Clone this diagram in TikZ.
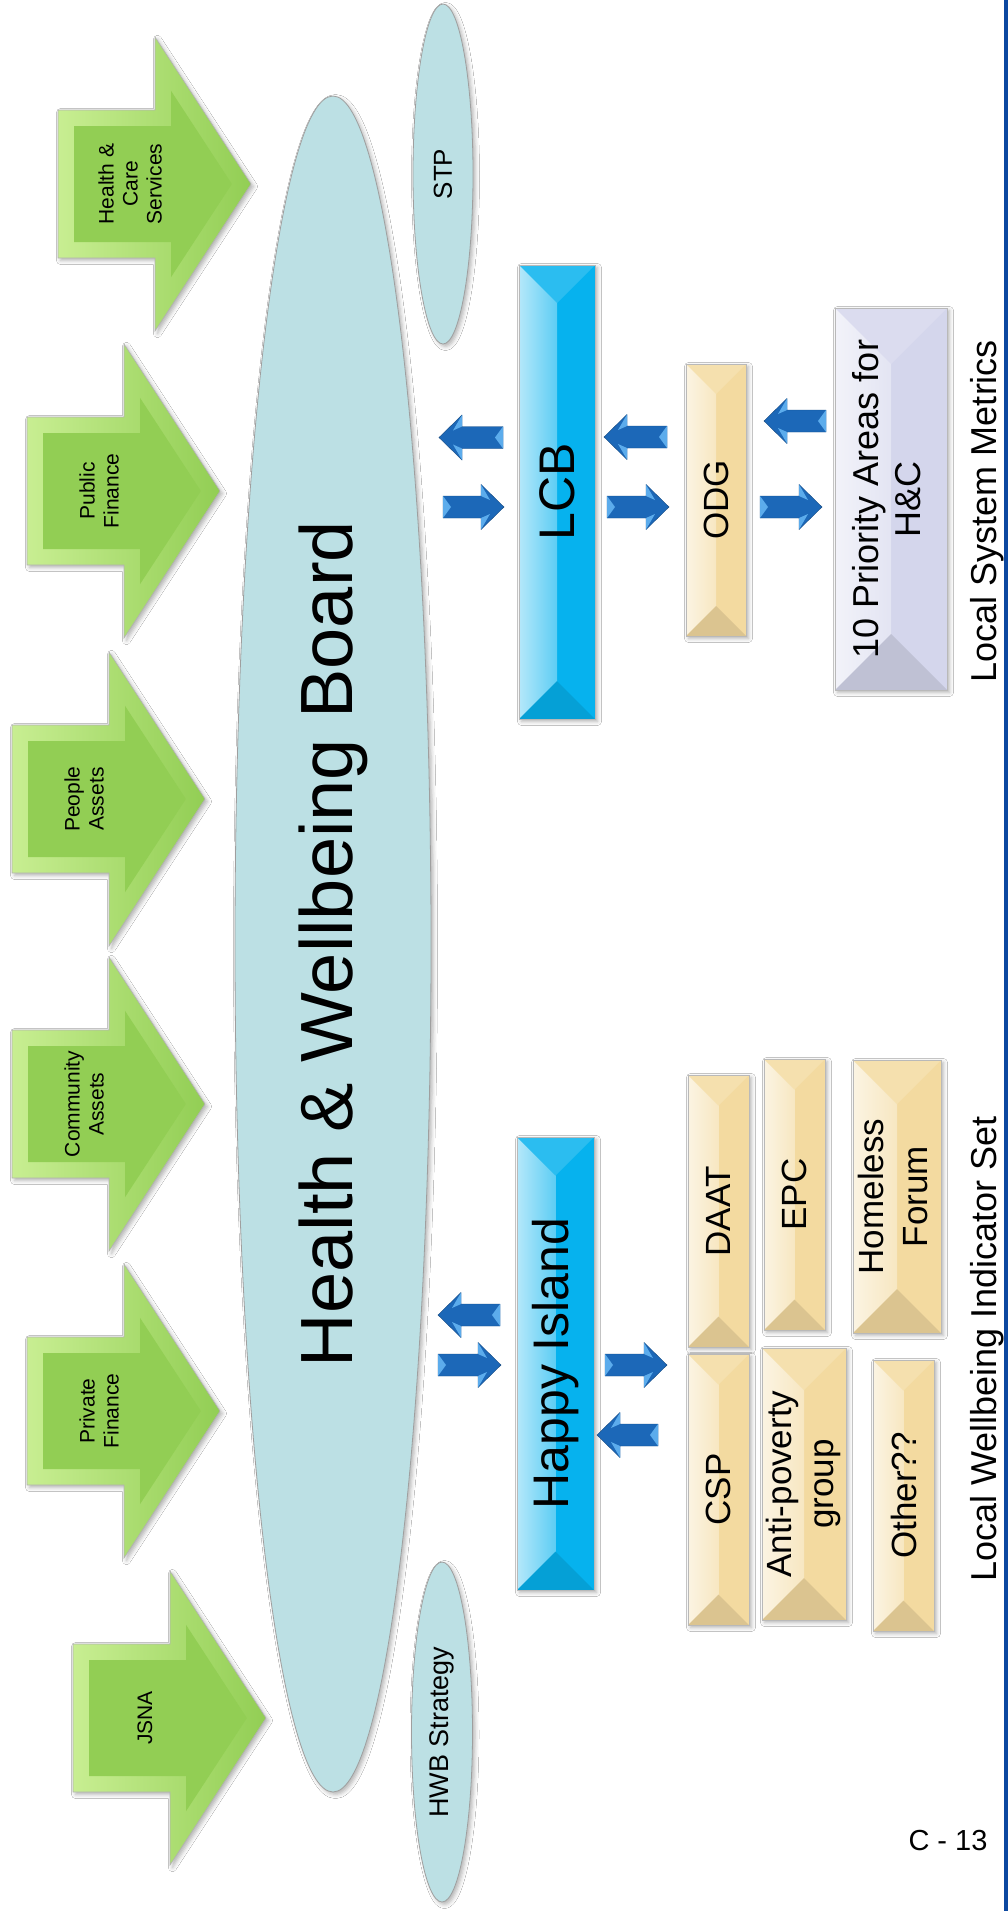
\documentclass[tikz,border=0pt]{standalone}
\usepackage{fontspec}
\setmainfont{Liberation Sans}
\usetikzlibrary{shapes.geometric,shadows.blur,calc}
\definecolor{grn}{RGB}{146,206,84}
\definecolor{grnl}{RGB}{200,238,146}
\definecolor{ellc}{RGB}{188,224,228}
\definecolor{cyanb}{RGB}{6,178,238}
\definecolor{tanc}{RGB}{243,218,160}
\definecolor{lavc}{RGB}{212,214,236}
\definecolor{barr}{RGB}{28,104,184}
\definecolor{barrl}{RGB}{92,172,236}
\definecolor{bord}{RGB}{12,72,160}

\newcommand\facets[1]{%
 \shade[left color=#1!30!white, right color=#1] let \p1=(path picture bounding box.north west),\p2=(path picture bounding box.south east) in
   (\x1,\y1) rectangle ({(\x1+\x2)/2},\y2);
 \fill[#1!85!white] let \p1=(path picture bounding box.north west),\p2=(path picture bounding box.south east) in
   (\x1,\y1) -- (\x2,\y1) -- ({(\x1+\x2)/2},{\y1-(\x2-\x1)/2}) -- cycle;
 \fill[#1!90!black] let \p1=(path picture bounding box.north west),\p2=(path picture bounding box.south east) in
   (\x1,\y2) -- (\x2,\y2) -- ({(\x1+\x2)/2},{\y2+(\x2-\x1)/2}) -- cycle;
}

\tikzset{
 shad/.style={blur shadow={shadow xshift=2.5pt,shadow yshift=-2.5pt,shadow blur radius=4pt,shadow opacity=30}},
 ellnode/.style={ellipse, draw=gray!75, line width=0.8pt, fill=ellc, inner sep=0pt, rotate=90, shad},
 bevbox/.style={rectangle, draw=gray!55, line width=0.6pt, fill=#1, inner sep=0pt, shad, path picture={\facets{#1}}},
 gtext/.style={rotate=90, align=center, inner sep=0pt, font=\fontsize{21}{24}\selectfont},
 sidetext/.style={rotate=90, inner sep=0pt, font=\fontsize{36}{42}\selectfont},
 gouter/.style={shad, draw=gray!60, line width=0.6pt, left color=grnl, right color=grn},
 bluearr/.style={fill=barr, draw=barr!70!black, line width=0.4pt}
}

% green block arrow: #1 left x, #2 centre y, #3 name, #4 text
\newcommand\garrow[4]{%
 \path[gouter] (#1,#2-74) -- (#1+97,#2-74) -- (#1+97,#2-147) -- (#1+193,#2) -- (#1+97,#2+147) -- (#1+97,#2+74) -- (#1,#2+74) -- cycle;
 \fill[grn] (#1+16,#2-58) -- (#1+113,#2-58) -- (#1+113,#2-93.2) -- (#1+173.9,#2) -- (#1+113,#2+93.2) -- (#1+113,#2+58) -- (#1+16,#2+58) -- cycle;
 \node[gtext] (#3) at (#1+72,#2) {#4};
}
% blue arrow pointing right: #1 tail x, #2 tip x, #3 centre y
\newcommand\barrR[3]{%
 \path[bluearr] (#1,#3-11) -- (#2-23,#3-11) -- (#2-23,#3-22.5) -- (#2,#3) -- (#2-23,#3+22.5) -- (#2-23,#3+11) -- (#1,#3+11) -- cycle;
 \fill[barrl] (#1,#3-11) -- (#1+8,#3) -- (#1,#3+11) -- cycle;
 \fill[barrl] (#2-23,#3-22.5) -- (#2-14,#3-7) -- (#2-23,#3-11) -- cycle;
 \fill[barrl] (#2-23,#3+22.5) -- (#2-14,#3+7) -- (#2-23,#3+11) -- cycle;
}
% blue arrow pointing left: #1 tip x, #2 tail x, #3 centre y
\newcommand\barrL[3]{%
 \path[bluearr] (#2,#3-11) -- (#1+23,#3-11) -- (#1+23,#3-22.5) -- (#1,#3) -- (#1+23,#3+22.5) -- (#1+23,#3+11) -- (#2,#3+11) -- cycle;
 \fill[barrl] (#2,#3-11) -- (#2-8,#3) -- (#2,#3+11) -- cycle;
 \fill[barrl] (#1+23,#3-22.5) -- (#1+14,#3-7) -- (#1+23,#3-11) -- cycle;
 \fill[barrl] (#1+23,#3+22.5) -- (#1+14,#3+7) -- (#1+23,#3+11) -- cycle;
}

\begin{document}
\begin{tikzpicture}[x=1pt,y=-1pt]
\useasboundingbox (0,0) rectangle (1008,1911);
\fill[white] (0,0) rectangle (1008,1911);
\fill[bord] (1004,0) rectangle (1008,1911);

% green input arrows
\garrow{58}{184}{hcs}{Health \&\\Care\\Services}
\garrow{27}{491}{pubf}{Public\\Finance}
\garrow{12}{799}{peop}{People\\Assets}
\garrow{12}{1104}{comm}{Community\\Assets}
\garrow{27}{1411}{privf}{Private\\Finance}
\garrow{73}{1718}{jsna}{JSNA}

% ellipses
\node[ellnode, minimum width=1696pt, minimum height=196pt, font=\fontsize{74}{88}\selectfont] (hwb) at (333,944) {Health \& Wellbeing Board};
\node[ellnode, minimum width=340pt, minimum height=60pt, font=\fontsize{26}{30}\selectfont] (stp) at (443,174) {STP};
\node[ellnode, minimum width=340pt, minimum height=61pt, font=\fontsize{27}{31}\selectfont] (hwbs) at (442,1732) {HWB Strategy};

% boxes
\node[bevbox=cyanb, minimum width=76pt, minimum height=454pt, font=\fontsize{50}{58}\selectfont] (lcb) at (557,492) {\rotatebox{90}{LCB}};
\node[bevbox=cyanb, minimum width=77pt, minimum height=453pt, font=\fontsize{50}{58}\selectfont] (hi) at (555.5,1363.5) {\rotatebox{90}{Happy Island}};
\node[bevbox=tanc, minimum width=60pt, minimum height=272pt, font=\fontsize{35}{42}\selectfont] (odg) at (716,500) {\rotatebox{90}{ODG}};
\node[bevbox=lavc, minimum width=112pt, minimum height=382pt, font=\fontsize{36}{42}\selectfont] (prio) at (891,499) {\rotatebox{90}{\begin{tabular}{@{}c@{}}10 Priority Areas for\\H\&C\end{tabular}}};
\node[bevbox=tanc, minimum width=61pt, minimum height=272pt, font=\fontsize{35}{42}\selectfont] (daat) at (718.5,1211) {\rotatebox{90}{DAAT}};
\node[bevbox=tanc, minimum width=61pt, minimum height=271pt, font=\fontsize{35}{42}\selectfont] (epc) at (794.5,1194.5) {\rotatebox{90}{EPC}};
\node[bevbox=tanc, minimum width=74pt, minimum height=273pt, font=\fontsize{35}{44}\selectfont] (homeless) at (897,1196.5) {\rotatebox{90}{\begin{tabular}{@{}c@{}}Homeless\\Forum\end{tabular}}};
\node[bevbox=tanc, minimum width=61pt, minimum height=271pt, font=\fontsize{35}{42}\selectfont] (csp) at (718.5,1489.5) {\rotatebox{90}{CSP}};
\node[bevbox=tanc, minimum width=80pt, minimum height=272pt, font=\fontsize{35}{42}\selectfont] (anti) at (804,1484) {\rotatebox{90}{\begin{tabular}{@{}c@{}}Anti-poverty\\group\end{tabular}}};
\node[bevbox=tanc, minimum width=61pt, minimum height=271pt, font=\fontsize{35}{42}\selectfont] (other) at (903.5,1495.5) {\rotatebox{90}{Other??}};

% blue block arrows
\barrL{439}{503}{437.5}
\barrR{443}{504}{507}
\barrL{604}{667}{437}
\barrR{607}{669}{507}
\barrL{764}{826}{421}
\barrR{760}{822}{507}
\barrL{438}{500}{1315}
\barrR{438}{501}{1365}
\barrR{605}{667}{1365}
\barrL{597}{658}{1435}

% side captions
\node[sidetext] (lsm) at (987.5,511) {Local System Metrics};
\node[sidetext] (lwis) at (987,1349) {Local Wellbeing Indicator Set};
\node[inner sep=0pt, font=\fontsize{29}{34}\selectfont] (pagenum) at (948,1840) {C - 13};
\end{tikzpicture}
\end{document}
